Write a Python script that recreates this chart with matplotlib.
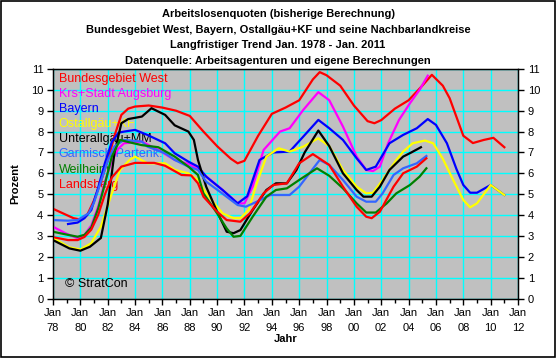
import matplotlib
matplotlib.use("Agg")
import matplotlib.pyplot as plt
from matplotlib.patches import Rectangle

plt.rcParams['font.family'] = ['Liberation Sans', 'DejaVu Sans']

# === Data (year, unemployment rate %) ===
bw_years = [1978.0, 1978.5, 1979.0, 1979.5, 1980.0, 1980.5, 1981.0, 1981.5, 1982.0, 1982.5,
            1983.0, 1983.5, 1984.0, 1985.0, 1986.0, 1987.0, 1988.0, 1989.0, 1990.0, 1991.0,
            1991.5, 1992.0, 1993.0, 1994.0, 1995.0, 1996.0, 1997.0, 1997.5, 1998.0, 1999.0,
            2000.0, 2001.0, 2001.5, 2002.0, 2003.0, 2004.0, 2005.0, 2005.7, 2006.5, 2007.0,
            2008.0, 2008.7, 2009.5, 2010.2, 2011.0]
bw_vals = [4.3, 4.15, 4.0, 3.85, 3.78, 4.0, 4.7, 5.6, 6.6, 7.8,
           8.8, 9.1, 9.2, 9.25, 9.15, 9.0, 8.75, 8.0, 7.3, 6.7,
           6.48, 6.6, 7.8, 8.85, 9.15, 9.5, 10.5, 10.85, 10.7, 10.2,
           9.25, 8.5, 8.4, 8.55, 9.1, 9.5, 10.2, 10.72, 10.2, 9.6,
           7.8, 7.45, 7.6, 7.7, 7.25]

aug_years = [1978.0, 1979.0, 1979.8, 1980.3, 1980.8, 1981.3, 1981.8, 1982.3, 1982.8, 1983.2,
             1984.5, 1985.7, 1986.9, 1987.9, 1988.6, 1989.5, 1990.4, 1991.5, 1992.0, 1992.6,
             1993.4, 1994.6, 1995.3, 1996.3, 1997.4, 1998.2, 1999.2, 2000.2, 2000.9, 2001.4,
             2001.9, 2002.5, 2003.3, 2004.1, 2004.8, 2005.4]
aug_vals = [3.44, 3.1, 2.89, 3.05, 3.5, 4.4, 5.6, 6.6, 7.2, 7.44,
            7.52, 7.12, 6.64, 6.45, 6.2, 5.68, 5.2, 4.56, 4.56, 5.36,
            7.12, 8.0, 8.16, 9.04, 9.89, 9.5, 8.24, 6.8, 6.16, 6.11,
            6.32, 7.44, 8.56, 9.36, 10.0, 10.68]

bay_years = [1979.1, 1979.8, 1980.3, 1980.8, 1981.3, 1981.8, 1982.3, 1982.8, 1983.2, 1984.0,
             1984.9, 1986.2, 1986.9, 1987.9, 1988.6, 1989.2, 1990.4, 1991.5, 1992.2, 1993.1,
             1994.1, 1995.3, 1996.3, 1997.4, 1998.2, 1999.2, 2000.2, 2000.9, 2001.6, 2002.6,
             2003.6, 2004.6, 2005.4, 2006.0, 2006.8, 2007.5, 2008.0, 2008.5, 2009.0, 2010.0,
             2011.0]
bay_vals = [3.57, 3.64, 3.85, 4.24, 5.3, 6.5, 7.5, 7.95, 8.0, 8.08,
            7.84, 7.44, 6.96, 6.56, 6.32, 5.84, 5.2, 4.56, 4.9, 6.64,
            7.0, 7.04, 7.76, 8.56, 8.16, 7.6, 6.72, 6.16, 6.32, 7.44,
            7.84, 8.16, 8.6, 8.32, 7.44, 6.2, 5.44, 5.07, 5.07, 5.44,
            4.96]

oal_years = [1978.0, 1979.2, 1980.0, 1980.8, 1981.5, 1982.3, 1982.9, 1983.6, 1984.0, 1984.9,
             1986.2, 1986.9, 1987.9, 1988.6, 1989.2, 1990.4, 1991.2, 1991.7, 1992.3, 1992.9,
             1993.6, 1994.5, 1995.3, 1996.3, 1997.4, 1998.2, 1999.2, 2000.2, 2000.9, 2001.4,
             2002.1, 2003.1, 2003.6, 2004.3, 2005.2, 2005.8, 2006.5, 2007.2, 2008.0, 2008.5,
             2009.0, 2010.0, 2011.0]
oal_vals = [2.9, 2.45, 2.35, 2.65, 3.44, 5.04, 6.16, 6.64, 6.8, 6.48,
            6.48, 6.16, 6.0, 5.68, 5.04, 4.08, 3.85, 3.85, 4.24, 5.52,
            6.8, 7.2, 7.04, 7.28, 7.68, 7.3, 6.16, 5.36, 5.04, 5.07,
            5.68, 6.64, 7.04, 7.44, 7.57, 7.44, 6.7, 5.76, 4.72, 4.37,
            4.56, 5.44, 4.96]

ual_years = [1978.0, 1979.2, 1980.0, 1980.7, 1981.5, 1982.0, 1982.5, 1983.0, 1983.5, 1984.5,
             1985.2, 1986.2, 1986.9, 1987.9, 1988.3, 1988.6, 1989.2, 1990.0, 1990.7, 1991.2,
             1991.7, 1992.6, 1993.6, 1994.3, 1995.1, 1995.8, 1996.4, 1997.4, 1998.2, 1999.2,
             2000.2, 2000.7, 2001.3, 2001.9, 2002.6, 2003.6, 2004.2, 2004.9]
ual_vals = [2.8, 2.4, 2.29, 2.48, 2.9, 4.5, 7.0, 8.4, 8.6, 8.72,
            9.12, 8.8, 8.3, 8.0, 7.6, 6.64, 5.36, 4.16, 3.2, 3.13,
            3.28, 4.24, 5.2, 5.52, 5.52, 6.16, 7.0, 8.05, 7.3, 6.0,
            5.2, 4.88, 4.88, 5.36, 6.16, 6.8, 7.0, 7.25]

gap_years = [1978.0, 1979.1, 1979.8, 1980.6, 1981.0, 1981.5, 1982.0, 1982.5, 1983.2, 1984.5,
             1984.9, 1986.2, 1986.9, 1987.9, 1988.6, 1989.2, 1990.2, 1991.5, 1992.1, 1992.9,
             1993.9, 1995.3, 1996.0, 1997.5, 1998.2, 1999.2, 2000.2, 2000.9, 2001.6, 2002.1,
             2002.9, 2003.6, 2004.6, 2005.3]
gap_vals = [3.76, 3.73, 3.76, 4.08, 4.6, 5.6, 6.6, 7.3, 7.6, 7.52,
            7.28, 6.96, 6.64, 6.32, 6.16, 5.6, 5.12, 4.48, 4.4, 4.64,
            4.96, 4.96, 5.36, 6.64, 6.4, 5.68, 4.88, 4.64, 4.64, 5.04,
            5.92, 6.24, 6.48, 6.83]

wm_years = [1978.0, 1979.1, 1979.8, 1980.3, 1980.8, 1981.3, 1981.8, 1982.3, 1982.9, 1983.5,
            1984.5, 1985.7, 1986.9, 1987.9, 1988.6, 1989.0, 1990.0, 1990.7, 1991.2, 1991.7,
            1992.6, 1993.6, 1994.3, 1995.1, 1996.0, 1997.3, 1998.2, 1999.2, 2000.2, 2000.9,
            2001.6, 2002.4, 2003.1, 2004.1, 2004.8, 2005.3]
wm_vals = [3.2, 3.05, 2.96, 3.05, 3.4, 4.3, 5.5, 6.8, 7.6, 7.5,
           7.35, 7.25, 6.8, 6.32, 5.92, 5.04, 4.08, 3.36, 2.96, 3.0,
           3.92, 4.88, 5.2, 5.28, 5.68, 6.24, 5.88, 5.28, 4.56, 4.12,
           4.12, 4.56, 5.04, 5.44, 5.84, 6.24]

ll_years = [1978.0, 1979.1, 1979.8, 1980.3, 1980.8, 1981.3, 1981.8, 1982.3, 1983.0, 1984.0,
            1985.4, 1986.2, 1987.4, 1988.1, 1988.6, 1989.0, 1990.0, 1990.7, 1991.7, 1992.4,
            1993.4, 1994.1, 1995.1, 1996.0, 1997.0, 1998.2, 1999.2, 2000.2, 2000.9, 2001.3,
            2001.9, 2002.9, 2003.6, 2004.6, 2005.3]
ll_vals = [2.94, 2.8, 2.8, 2.95, 3.3, 4.0, 5.0, 5.8, 6.32, 6.5,
           6.5, 6.36, 5.92, 5.9, 5.52, 4.88, 4.16, 3.76, 3.68, 4.08,
           5.04, 5.44, 5.52, 6.48, 6.92, 6.4, 5.36, 4.4, 3.92, 3.85,
           4.16, 5.36, 6.0, 6.32, 6.72]

series = [
    ("Bundesgebiet West", bw_years, bw_vals, "#FF0000"),
    ("Krs+Stadt Augsburg", aug_years, aug_vals, "#FF00FF"),
    ("Bayern", bay_years, bay_vals, "#0000FF"),
    ("Ostallgäu+KF", oal_years, oal_vals, "#FFFF00"),
    ("Unterallgäu+MM", ual_years, ual_vals, "#000000"),
    ("Garmisch-Partenk.", gap_years, gap_vals, "#3366FF"),
    ("Weilheim", wm_years, wm_vals, "#008000"),
    ("Landsberg", ll_years, ll_vals, "#FF0000"),
]

title_lines = [
    "Arbeitslosenquoten (bisherige Berechnung)",
    "Bundesgebiet West, Bayern, Ostallgäu+KF und seine Nachbarlandkreise",
    "Langfristiger Trend Jan. 1978 - Jan. 2011",
    "Datenquelle: Arbeitsagenturen und eigene Berechnungen",
]
tick_years = list(range(1978, 2013, 2))
tick_labels = ["Jan\n%02d" % (y % 100) for y in tick_years]

fig = plt.figure(figsize=(5.56, 3.58), dpi=100)
fig.patch.set_facecolor("white")
fig.add_artist(Rectangle((0.001, 0.002), 0.997, 0.995, transform=fig.transFigure,
                         fill=False, edgecolor="black", lw=1.2))

ax = fig.add_axes([0.0953, 0.1662, 0.8364, 0.6411])
ax.set_facecolor("#C0C0C0")
ax.set_xlim(1978, 2012)
ax.set_ylim(0, 11)
ax.set_xticks(tick_years)
ax.set_xticklabels(tick_labels, fontsize=8, linespacing=1.6)
ax.set_xticks(range(1978, 2013), minor=True)
ax.set_yticks(range(0, 12))
ax.tick_params(axis="both", labelsize=8, length=4, width=1, direction="out", pad=3)
ax.tick_params(axis="x", which="minor", length=3, width=1)
ax.grid(True, which="major", color="#00FFFF", lw=1)
ax.set_axisbelow(True)
for sp in ax.spines.values():
    sp.set_color("black")
    sp.set_linewidth(1)

ax2 = ax.twinx()
ax2.set_ylim(0, 11)
ax2.set_yticks(range(0, 12))
ax2.tick_params(axis="y", labelsize=8, length=4, width=1, direction="out", pad=3)

ax.set_ylabel("Prozent", fontsize=8, fontweight="bold", labelpad=8)
ax.set_xlabel("Jahr", fontsize=8, fontweight="bold", labelpad=1)

# legend as coloured text inside the plot
for i, (name, yrs, vals, col) in enumerate(series):
    ax.text(0.012, 0.955 - i * 0.0655, name, transform=ax.transAxes, color=col,
            fontsize=9, ha="left", va="center", zorder=2)

for name, yrs, vals, col in series:
    ax.plot(yrs, vals, color=col, lw=1.6, zorder=3, solid_joinstyle="round")

ax.text(0.025, 0.065, "© StratCon", transform=ax.transAxes, fontsize=9,
        color="black", ha="left", va="center", zorder=4)

for i, line in enumerate(title_lines):
    fig.text(0.5, 1 - (14 + i * 15.7) / 358, line, ha="center", va="center",
             fontsize=8, fontweight="bold")

fig.savefig("out.png", dpi=100)
